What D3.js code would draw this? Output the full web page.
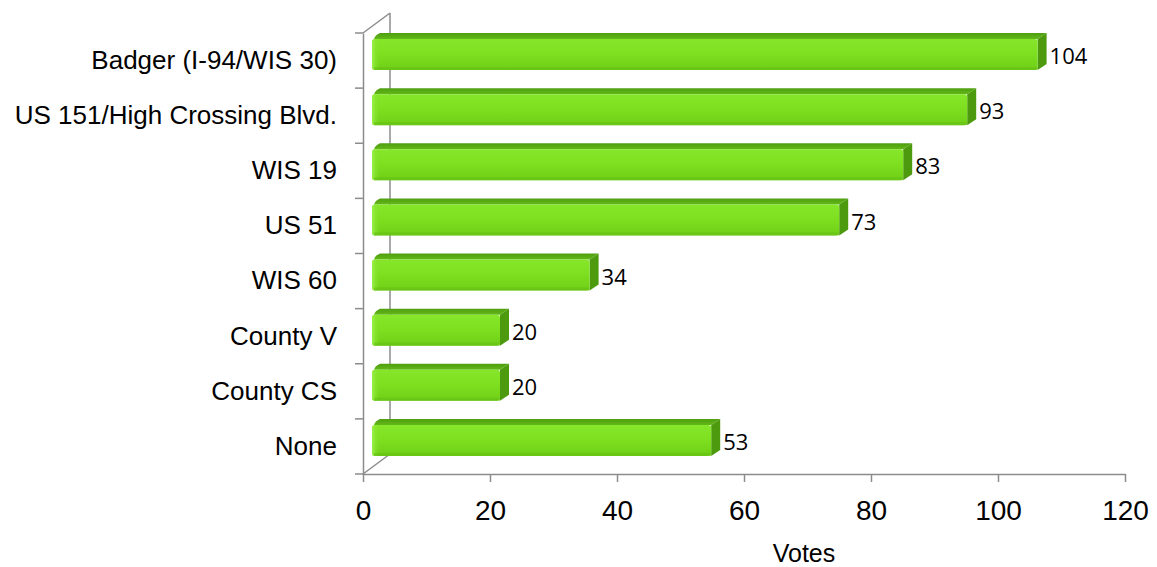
<!DOCTYPE html>
<html>
<head>
<meta charset="utf-8">
<script src="https://cdn.jsdelivr.net/npm/d3@7"></script>
<style>
  html, body { margin: 0; padding: 0; background: #fff; }
  svg { display: block; }
</style>
</head>
<body>
<svg id="chart" width="1157" height="567"></svg>
<script>
// Survey results: preferred corridor, number of votes
const categories = [
  "Badger (I-94/WIS 30)",
  "US 151/High Crossing Blvd.",
  "WIS 19",
  "US 51",
  "WIS 60",
  "County V",
  "County CS",
  "None"
];
const votes = [104, 93, 83, 73, 34, 20, 20, 53];
const xTicks = [0, 20, 40, 60, 80, 100, 120];
const xTitle = "Votes";

const svg = d3.select("#chart");

// Front plane of the 3-D box
const plot = { left: 363, right: 1125, top: 33, bottom: 474 };
// Oblique depth offset of the back wall
const depth = { dx: 27, dy: -20 };

const x = d3.scaleLinear().domain([0, 120]).range([plot.left, plot.right]);
const y = d3.scaleBand().domain(categories).range([plot.top, plot.bottom]);

// Bars sit half way back in the box, seen in slight perspective
const xBar = d3.scaleLinear().domain([0, 120]).range([372, 372 + 120 * 6.4]);
const side = 9;      // visible depth of a bar's top and end faces
const faceTop = 6;   // offset from band top to front face top
const faceBot = 37;  // offset from band top to front face bottom

const defs = svg.append("defs");
const gFront = defs.append("linearGradient").attr("id", "front")
  .attr("x1", 0).attr("y1", 0).attr("x2", 0).attr("y2", 1);
gFront.append("stop").attr("offset", "0%").attr("stop-color", "#86e62a");
gFront.append("stop").attr("offset", "45%").attr("stop-color", "#7fe021");
gFront.append("stop").attr("offset", "100%").attr("stop-color", "#6fcf16");
const gTop = defs.append("linearGradient").attr("id", "topface")
  .attr("x1", 0).attr("y1", 0).attr("x2", 0).attr("y2", 1);
gTop.append("stop").attr("offset", "0%").attr("stop-color", "#4f9e10");
gTop.append("stop").attr("offset", "100%").attr("stop-color", "#62b818");
const gLeft = defs.append("linearGradient").attr("id", "leftedge")
  .attr("x1", 0).attr("y1", 0).attr("x2", 1).attr("y2", 0);
gLeft.append("stop").attr("offset", "0%").attr("stop-color", "#9af04a");
gLeft.append("stop").attr("offset", "100%").attr("stop-color", "#7fe021").attr("stop-opacity", 0);

const axisColor = "#8c8c8c";

// Box edges: back wall upright and the two depth diagonals
const box = svg.append("g").attr("stroke", axisColor).attr("stroke-width", 1.5).attr("fill", "none");
box.append("line")
  .attr("x1", plot.left + depth.dx).attr("y1", plot.top + depth.dy)
  .attr("x2", plot.left + depth.dx).attr("y2", plot.bottom + depth.dy);
box.append("line")
  .attr("x1", plot.left).attr("y1", plot.top)
  .attr("x2", plot.left + depth.dx).attr("y2", plot.top + depth.dy);
box.append("line")
  .attr("x1", plot.left).attr("y1", plot.bottom)
  .attr("x2", plot.left + depth.dx).attr("y2", plot.bottom + depth.dy);

// Bars
const bars = svg.append("g").selectAll("g.bar")
  .data(categories.map((c, i) => ({ c, v: votes[i] })))
  .join("g").attr("class", "bar");

bars.each(function (d) {
  const g = d3.select(this);
  const b = y(d.c);
  const x0 = xBar(0), x1 = xBar(d.v);
  const t = b + faceTop, btm = b + faceBot;
  // top face
  g.append("path")
    .attr("d", `M${x0 + 2},${t} Q${x0 + 3},${t - 4} ${x0 + side - 1},${t - faceTop} L${x1 + side},${t - faceTop} L${x1},${t} Z`)
    .attr("fill", "url(#topface)");
  // end face
  g.append("path")
    .attr("d", `M${x1},${t} L${x1 + side},${t - faceTop} L${x1 + side},${btm - faceTop} L${x1},${btm} Z`)
    .attr("fill", "#4d9a0e");
  // front face
  g.append("rect")
    .attr("x", x0).attr("y", t)
    .attr("width", x1 - x0).attr("height", btm - t)
    .attr("rx", 3)
    .attr("fill", "url(#front)");
  g.append("rect")
    .attr("x", x0).attr("y", t)
    .attr("width", 8).attr("height", btm - t)
    .attr("rx", 3)
    .attr("fill", "url(#leftedge)");
  // subtle darker lower rim
  g.append("rect")
    .attr("x", x0 + 2).attr("y", btm - 3)
    .attr("width", x1 - x0 - 2).attr("height", 3)
    .attr("fill", "#66c014").attr("opacity", 0.6);
  // value label
  g.append("text")
    .attr("x", x1 + side + 3)
    .attr("y", (t + btm) / 2 + 2)
    .attr("dy", "0.35em")
    .attr("font-family", "'Open Sans', 'Noto Sans', sans-serif")
    .attr("font-size", 22)
    .attr("fill", "#000")
    .text(d.v);
});

// Value axis
const xAxis = svg.append("g")
  .attr("transform", `translate(0,${plot.bottom})`)
  .call(d3.axisBottom(x).tickValues(xTicks).tickSize(8).tickPadding(18).tickSizeOuter(0));
xAxis.select(".domain").attr("stroke", axisColor).attr("stroke-width", 1.5);
xAxis.selectAll(".tick line").attr("stroke", axisColor).attr("stroke-width", 1.5);
xAxis.selectAll(".tick text")
  .attr("font-family", "'Liberation Sans', Arial, sans-serif")
  .attr("font-size", 28)
  .attr("fill", "#000");

// Category axis
const yAxis = svg.append("g")
  .attr("transform", `translate(${plot.left},0)`)
  .call(d3.axisLeft(y).tickSize(0).tickPadding(26).tickSizeOuter(0));
yAxis.select(".domain").attr("stroke", axisColor).attr("stroke-width", 1.5);
yAxis.selectAll(".tick text")
  .attr("font-family", "'Liberation Sans', Arial, sans-serif")
  .attr("font-size", 26)
  .attr("fill", "#000");
// band boundary ticks
const bounds = categories.map(c => y(c)).concat([plot.bottom]);
yAxis.append("g").selectAll("line").data(bounds).join("line")
  .attr("x1", -8).attr("x2", 0)
  .attr("y1", d => d).attr("y2", d => d)
  .attr("stroke", axisColor).attr("stroke-width", 1.5);

// Axis title
svg.append("text")
  .attr("x", 804).attr("y", 562)
  .attr("text-anchor", "middle")
  .attr("font-family", "'Liberation Sans', Arial, sans-serif")
  .attr("font-size", 25)
  .attr("fill", "#000")
  .text(xTitle);
</script>
</body>
</html>
